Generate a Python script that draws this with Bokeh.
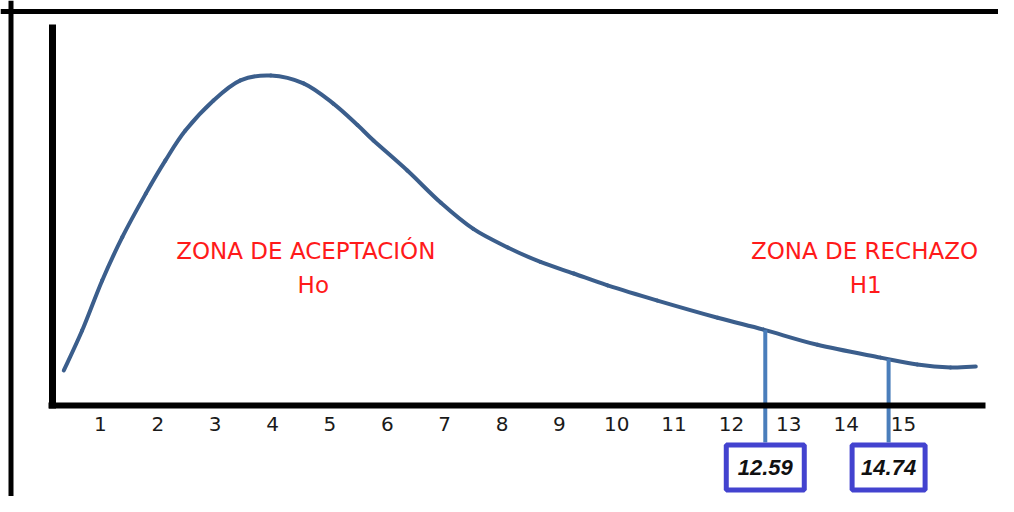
import numpy as np
from bokeh.plotting import figure
from bokeh.models import Range1d, FixedTicker, Span, Label
from bokeh.core.properties import value
from bokeh.embed import file_html
from bokeh.resources import INLINE

# ---- data ----
curve_x = [0.36, 0.68, 1.03, 1.38, 1.79, 2.13, 2.48, 2.97, 3.44, 3.97, 4.54, 5.06,
           5.48, 5.76, 6.35, 6.93, 7.50, 8.10, 8.67, 9.25, 9.84, 10.71, 11.76,
           12.56, 13.50, 14.60, 15.24, 15.82, 16.26]
curve_y = [10.6, 22.7, 37.9, 51.0, 64.2, 74.2, 83.3, 92.4, 98.5, 100.0, 97.6, 91.5,
           85.0, 80.3, 71.2, 61.5, 53.5, 47.9, 43.5, 40.0, 36.4, 31.8, 26.6,
           23.0, 18.4, 14.5, 12.4, 11.5, 11.8]
tick_values = list(range(1, 16))
critical_values = [12.59, 14.74]
critical_labels = ["12.59", "14.74"]
zone_titles = ["ZONA DE ACEPTACIÓN", "ZONA DE RECHAZO"]
zone_hyp = ["Ho", "H1"]

# ---- layout ----
W, H = 998, 496
p = figure(width=W, height=H, output_backend="svg", toolbar_location=None,
           x_range=Range1d(-0.743, 16.656), y_range=Range1d(-27.58, 122.73),
           min_border=0, min_border_left=0, min_border_right=0,
           min_border_top=0, min_border_bottom=0)
p.outline_line_color = None
p.xgrid.visible = False
p.ygrid.visible = False
p.background_fill_color = "white"
p.border_fill_color = "white"

# axes
xa = p.xaxis[0]
xa.fixed_location = 0
xa.bounds = (0.10, 16.43)
xa.ticker = FixedTicker(ticks=tick_values)
xa.axis_line_width = 6
xa.axis_line_color = "black"
xa.major_tick_out = 0
xa.major_tick_in = 0
xa.minor_tick_out = 0
xa.minor_tick_in = 0
xa.major_label_standoff = 12
xa.major_label_text_font = "DejaVu Sans"
xa.major_label_text_font_size = "20px"
xa.major_label_text_color = "#1a1a1a"

ya = p.yaxis[0]
ya.fixed_location = 0.164
ya.bounds = (-0.9, 115.5)
ya.axis_line_width = 7
ya.axis_line_color = "black"
ya.major_tick_out = 0
ya.major_tick_in = 0
ya.minor_tick_out = 0
ya.minor_tick_in = 0
ya.major_label_text_font_size = "0px"
ya.major_label_text_alpha = 0

# outer frame (left and top edges)
p.add_layout(Span(location=-0.56, dimension="height", line_color="black", line_width=5))
p.add_layout(Span(location=119.4, dimension="width", line_color="black", line_width=5))

# curve, drawn as a smooth Catmull-Rom spline through the read points
px = np.array(curve_x)
py = np.array(curve_y)
ex = np.concatenate([[px[0]], px, [px[-1]]])
ey = np.concatenate([[py[0]], py, [py[-1]]])
n = len(px) - 1
x0 = ex[1:n + 1]; y0 = ey[1:n + 1]
x1 = ex[2:n + 2]; y1 = ey[2:n + 2]
cx0 = ex[1:n + 1] + (ex[2:n + 2] - ex[0:n]) / 6.0
cy0 = ey[1:n + 1] + (ey[2:n + 2] - ey[0:n]) / 6.0
cx1 = ex[2:n + 2] - (ex[3:n + 3] - ex[1:n + 1]) / 6.0
cy1 = ey[2:n + 2] - (ey[3:n + 3] - ey[1:n + 1]) / 6.0
p.bezier(x0=x0, y0=y0, x1=x1, y1=y1, cx0=cx0, cy0=cy0, cx1=cx1, cy1=cy1,
         line_color="#3b5e8c", line_width=4, line_cap="round")

# critical lines and boxes
box_y = -18.8
box_top = -11.2
tops = list(np.interp(critical_values, curve_x, curve_y))
p.segment(x0=critical_values, y0=[box_top] * 2, x1=critical_values, y1=tops,
          line_color="#4a7ebb", line_width=4)
p.rect(x=critical_values, y=[box_y] * 2, width=[78, 73], height=45,
       width_units="screen", height_units="screen",
       fill_color="white", line_color="#4343cf", line_width=5)
p.text(x=critical_values, y=[box_y] * 2, text=critical_labels,
       text_align="center", text_baseline="middle",
       text_font=value("Liberation Sans"), text_font_style="bold italic",
       text_font_size="22px", text_color="#111111")

# zone labels
title_pos = [(4.58, 46.7), (14.32, 46.7)]
hyp_pos = [(4.71, 36.4), (14.34, 36.4)]
for t, (x, y) in zip(zone_titles, title_pos):
    p.add_layout(Label(x=x, y=y, text=t, text_align="center", text_baseline="middle",
                       text_font="DejaVu Sans", text_font_size="23px", text_color="#ff1a1a"))
for t, (x, y) in zip(zone_hyp, hyp_pos):
    p.add_layout(Label(x=x, y=y, text=t, text_align="center", text_baseline="middle",
                       text_font="DejaVu Sans", text_font_size="23px", text_color="#ff1a1a"))

open("out.html", "w").write(file_html(p, INLINE))
